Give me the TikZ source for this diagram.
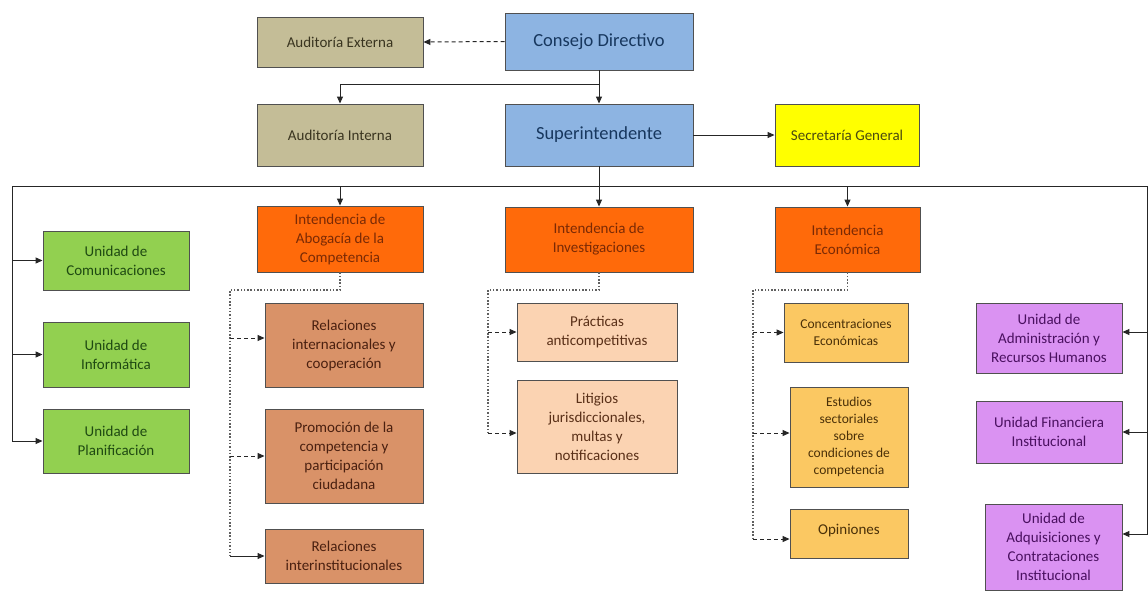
\documentclass[tikz,border=0pt]{standalone}
\usepackage{fontspec}
\setmainfont{Carlito}
\usetikzlibrary{arrows.meta,calc}
\definecolor{tanf}{HTML}{C4BD97}
\definecolor{bluef}{HTML}{8DB4E2}
\definecolor{yelf}{HTML}{FFFF00}
\definecolor{greenf}{HTML}{92D050}
\definecolor{orf}{HTML}{FF6A0A}
\definecolor{salf}{HTML}{D99268}
\definecolor{peachf}{HTML}{FBD3B2}
\definecolor{ltorf}{HTML}{FBC862}
\definecolor{purf}{HTML}{DA92F2}
\definecolor{boxline}{HTML}{505050}
\definecolor{lncol}{HTML}{262626}
\definecolor{dotcol}{HTML}{606060}
\definecolor{tTan}{HTML}{3A3520}
\definecolor{tBlue}{HTML}{17375E}
\definecolor{tYel}{HTML}{4A4A10}
\definecolor{tGreen}{HTML}{1F4A12}
\definecolor{tOr}{HTML}{7A2A05}
\definecolor{tSal}{HTML}{4A2010}
\definecolor{tPeach}{HTML}{5A3018}
\definecolor{tLtor}{HTML}{4A3008}
\definecolor{tPur}{HTML}{4A1060}
\begin{document}
\begin{tikzpicture}[x=1pt,y=-1pt,
  box/.style={draw=boxline, line width=0.9pt, inner sep=2pt, align=center,
    font=\fontsize{15}{19}\selectfont},
  bigbox/.style={box, font=\fontsize{18.5}{22}\selectfont},
  smbox/.style={box, font=\fontsize{13.5}{17}\selectfont},
  ln/.style={draw=lncol, line width=1pt},
  arr/.style={ln, -{Triangle[length=7pt,width=6pt]}},
  dsh/.style={arr, dash pattern=on 4pt off 3pt},
  dotl/.style={draw=dotcol, line width=1.1pt, dash pattern=on 1.5pt off 1.8pt}]
\useasboundingbox (0,0) rectangle (1148,590);
\fill[white] (0,0) rectangle (1148,590);
% top
\node[box, fill=tanf, text=tTan, minimum width=166pt, minimum height=50pt] (ext) at (340,42) {Auditoría Externa};
\node[bigbox, fill=bluef, text=tBlue, minimum width=188pt, minimum height=57pt] (cd) at (599,41.5) {Consejo Directivo};
\node[box, fill=tanf, text=tTan, minimum width=166pt, minimum height=62pt] (ai) at (340,135) {Auditoría Interna};
\node[bigbox, fill=bluef, text=tBlue, minimum width=188pt, minimum height=62pt] (si) at (599,135) {Superintendente};
\node[box, fill=yelf, text=tYel, minimum width=144pt, minimum height=62pt] (sg) at (847,135) {Secretaría General};
% green
\node[box, fill=greenf, text=tGreen, minimum width=146pt, minimum height=59pt] (uc) at (116,260.5) {Unidad de\\Comunicaciones};
\node[box, fill=greenf, text=tGreen, minimum width=146pt, minimum height=65pt] (ui) at (116,354.5) {Unidad de\\Informática};
\node[box, fill=greenf, text=tGreen, minimum width=146pt, minimum height=64pt] (up) at (116,441) {Unidad de\\Planificación};
% intendencias
\node[box, fill=orf, text=tOr, minimum width=166pt, minimum height=66pt] (ia) at (340,239) {Intendencia de\\Abogacía de la\\Competencia};
\node[box, fill=orf, text=tOr, minimum width=188pt, minimum height=65pt] (iv) at (599,239.5) {Intendencia de\\Investigaciones};
\node[box, fill=orf, text=tOr, minimum width=145pt, minimum height=65pt] (ie) at (847.5,239.5) {Intendencia\\Económica};
% salmon
\node[box, fill=salf, text=tSal, minimum width=158pt, minimum height=84pt] (ri) at (344,345) {Relaciones\\internacionales y\\cooperación};
\node[box, fill=salf, text=tSal, minimum width=158pt, minimum height=94pt] (pr) at (344,456) {Promoción de la\\competencia y\\participación\\ciudadana};
\node[box, fill=salf, text=tSal, minimum width=158pt, minimum height=54pt] (rn) at (344,556) {Relaciones\\interinstitucionales};
% peach
\node[box, fill=peachf, text=tPeach, minimum width=160pt, minimum height=58pt] (pa) at (597,332) {Prácticas\\anticompetitivas};
\node[box, fill=peachf, text=tPeach, minimum width=160pt, minimum height=93pt] (li) at (597,426.5) {Litigios\\jurisdiccionales,\\multas y\\notificaciones};
% light orange
\node[smbox, fill=ltorf, text=tLtor, minimum width=124pt, minimum height=59pt] (ce) at (846,332.5) {Concentraciones\\Económicas};
\node[smbox, fill=ltorf, text=tLtor, minimum width=118pt, minimum height=100pt] (es) at (849,437) {Estudios\\sectoriales\\sobre\\condiciones de\\competencia};
\node[box, fill=ltorf, text=tLtor, minimum width=118pt, minimum height=49pt, text depth=8pt] (op) at (849,533.5) {Opiniones};
% purple
\node[box, fill=purf, text=tPur, minimum width=146pt, minimum height=70pt] (ad) at (1049,338) {Unidad de\\Administración y\\Recursos Humanos};
\node[box, fill=purf, text=tPur, minimum width=146pt, minimum height=62pt] (fi) at (1049,432) {Unidad Financiera\\Institucional};
\node[box, fill=purf, text=tPur, minimum width=137pt, minimum height=86pt] (aq) at (1053.5,547) {Unidad de\\Adquisiciones y\\Contrataciones\\Institucional};
% top connectors
\draw[dsh] (cd.west) -- (ext.east);
\draw[arr] (cd.south) -- (si.north);
\coordinate (br) at ($(cd.south)+(0,14)$);
\draw[arr] (br) -| (ai.north);
\draw[arr] (si.east) -- (sg.west);
% bus
\coordinate (busL) at (12,186);
\coordinate (busR) at (1147,186);
\draw[ln] (si.south) -- (si.south |- busL);
\draw[ln] (busL) -- (busR);
\draw[arr] (ia.north |- busL) -- (ia.north);
\draw[arr] (iv.north |- busL) -- (iv.north);
\draw[arr] (ie.north |- busL) -- (ie.north);
\draw[arr] (busL) |- (uc.west);
\draw[arr] (busL) |- (ui.west);
\draw[arr] (busL) |- (up.west);
\coordinate (adA) at ([yshift=6pt]ad.east);
\coordinate (aqA) at ([yshift=13pt]aq.east);
\draw[arr] (busR) |- (adA);
\draw[arr] (busR) |- (fi.east);
\draw[arr] (busR) |- (aqA);
% abogacia
\coordinate (av) at (230,290);
\coordinate (riA) at ([yshift=7pt]ri.west);
\draw[dotl] (ia.south) -- (ia.south |- av) -- (av) -- (av |- rn.west);
\draw[dsh] (av |- riA) -- (riA);
\draw[dsh] (av |- pr.west) -- (pr.west);
\draw[arr] (av |- rn.west) -- (rn.west);
% investigaciones
\coordinate (bv) at (488,290);
\coordinate (liA) at ([yshift=-6.5pt]li.west);
\draw[dotl] (iv.south) -- (iv.south |- bv) -- (bv) -- (bv |- liA);
\draw[dsh] (bv |- pa.west) -- (pa.west);
\draw[dsh] (bv |- liA) -- (liA);
% economica
\coordinate (cv) at (753,290);
\coordinate (esA) at ([yshift=4pt]es.west);
\coordinate (opA) at ([yshift=-5.5pt]op.west);
\draw[dotl] (ie.south) -- (ie.south |- cv) -- (cv) -- (cv |- opA);
\draw[dsh] (cv |- ce.west) -- (ce.west);
\draw[dsh] (cv |- esA) -- (esA);
\draw[dsh] (cv |- opA) -- (opA);
\end{tikzpicture}
\end{document}
